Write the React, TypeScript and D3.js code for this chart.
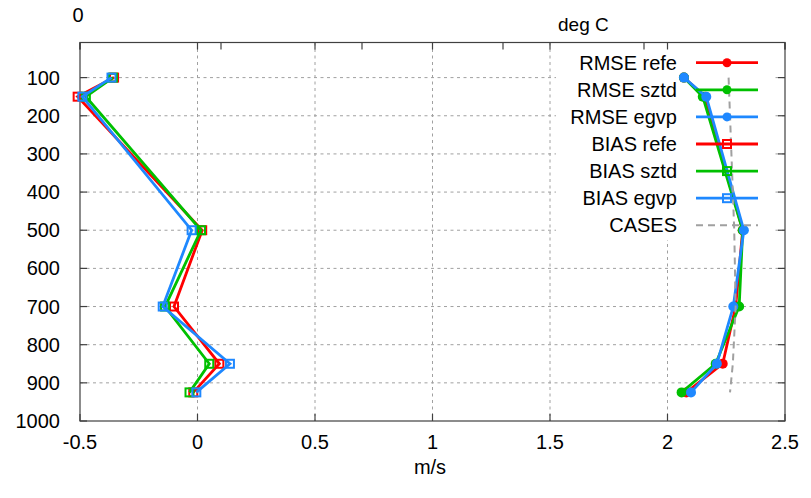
import React from "react";
import * as d3 from "d3";

// pressure levels (hPa)
const levels = [100, 150, 500, 700, 850, 925];

const rmseRefe = [2.07, 2.16, 2.32, 2.29, 2.235, 2.08];
const rmseSztd = [2.07, 2.15, 2.32, 2.305, 2.205, 2.06];
const rmseEgvp = [2.07, 2.165, 2.325, 2.28, 2.21, 2.1];

const biasRefe = [-0.355, -0.51, 0.02, -0.1, 0.093, -0.018];
const biasSztd = [-0.36, -0.475, 0.015, -0.138, 0.05, -0.034];
const biasEgvp = [-0.366, -0.49, -0.025, -0.148, 0.138, -0.005];

const cases = [4600, 4605, 4640, 4650, 4630, 4610];

const xTicks = [-0.5, 0, 0.5, 1, 1.5, 2, 2.5];
const yTicks = [100, 200, 300, 400, 500, 600, 700, 800, 900, 1000];
const x2Ticks = [0, 1000, 2000, 3000, 4000, 5000];

const RED = "#ff0000";
const GREEN = "#00c000";
const BLUE = "#1e88ff";
const GRAY = "#a0a0a0";

const series = [
  { name: "RMSE refe", values: rmseRefe, color: RED, kind: "rmse" },
  { name: "RMSE sztd", values: rmseSztd, color: GREEN, kind: "rmse" },
  { name: "RMSE egvp", values: rmseEgvp, color: BLUE, kind: "rmse" },
  { name: "BIAS refe", values: biasRefe, color: RED, kind: "bias" },
  { name: "BIAS sztd", values: biasSztd, color: GREEN, kind: "bias" },
  { name: "BIAS egvp", values: biasEgvp, color: BLUE, kind: "bias" },
];

export default function App() {
  const W = 811;
  const H = 498;
  const left = 80;
  const right = 785;
  const top = 42.5;
  const bottom = 421;

  const x = d3.scaleLinear().domain([-0.5, 2.5]).range([left, right]);
  const x2 = d3.scaleLinear().domain([0, 5000]).range([left, right]);
  const y = d3.scaleLinear().domain([8, 1000]).range([top, bottom]);

  const line = d3
    .line<[number, number]>()
    .x((d) => x(d[0]))
    .y((d) => y(d[1]));
  const line2 = d3
    .line<[number, number]>()
    .x((d) => x2(d[0]))
    .y((d) => y(d[1]));

  const font = "'Liberation Sans', Arial, sans-serif";
  const tickLen = 7;

  const marker = (kind: string, cx: number, cy: number, color: string, key: string, r = 5) =>
    kind === "rmse" ? (
      <circle key={key} cx={cx} cy={cy} r={r} fill={color} />
    ) : (
      <rect key={key} x={cx - 4} y={cy - 4} width={8} height={8} fill="none" stroke={color} strokeWidth={2} />
    );

  const legendRows = [...series.map((s) => s.name), "CASES"];
  const legendY = (i: number) => 62.7 + i * 27.1;

  return (
    <svg
      width={W}
      height={H}
      style={{ position: "absolute", left: 0, top: 0, background: "#fff" }}
      fontFamily={font}
    >
      <rect x={0} y={0} width={W} height={H} fill="#fff" />

      {/* grid */}
      <g stroke={GRAY} strokeWidth={1} strokeDasharray="3,3.5">
        {xTicks.slice(1, -1).map((t) => (
          <line key={"gx" + t} x1={x(t)} x2={x(t)} y1={top} y2={bottom} />
        ))}
        {yTicks.slice(0, -1).map((t) => (
          <line key={"gy" + t} x1={left} x2={right} y1={y(t)} y2={y(t)} />
        ))}
      </g>

      {/* opaque key box */}
      <rect x={556} y={44} width={216} height={196} fill="#fff" />

      {/* border and ticks */}
      <g stroke="#404040" strokeWidth={1.2}>
        <rect x={left} y={top} width={right - left} height={bottom - top} fill="none" />
        {xTicks.map((t) => (
          <g key={"xt" + t}>
            <line x1={x(t)} x2={x(t)} y1={bottom} y2={bottom - tickLen} />
            <line x1={x(t)} x2={x(t)} y1={top} y2={top + tickLen} />
          </g>
        ))}
        {x2Ticks.map((t) => (
          <line key={"x2t" + t} x1={x2(t)} x2={x2(t)} y1={top} y2={top + tickLen} />
        ))}
        {yTicks.map((t) => (
          <g key={"yt" + t}>
            <line x1={left} x2={left + tickLen} y1={y(t)} y2={y(t)} />
            <line x1={right} x2={right - tickLen} y1={y(t)} y2={y(t)} />
          </g>
        ))}
      </g>

      {/* tick labels */}
      <g fontSize={20} fill="#000">
        {yTicks.map((t) => (
          <text key={"yl" + t} x={60} y={y(t) + 7} textAnchor="end">
            {t}
          </text>
        ))}
        {xTicks.map((t) => (
          <text key={"xl" + t} x={x(t)} y={449} textAnchor="middle">
            {t}
          </text>
        ))}
        <text x={430} y={474} textAnchor="middle">m/s</text>
        <text x={78} y={22} textAnchor="middle">0</text>
        <text x={558} y={31} fontSize={19}>deg C</text>
      </g>

      {/* data */}
      {series.map((s) => {
        const pts = s.values.map((v, i) => [v, levels[i]] as [number, number]);
        return (
          <g key={s.name}>
            <path d={line(pts) ?? ""} fill="none" stroke={s.color} strokeWidth={2.8} />
            {pts.map((p, i) => marker(s.kind, x(p[0]), y(p[1]), s.color, s.name + i))}
          </g>
        );
      })}
      <path
        d={line2(cases.map((c, i) => [c, levels[i]] as [number, number])) ?? ""}
        fill="none"
        stroke={GRAY}
        strokeWidth={2}
        strokeDasharray="7,5"
      />

      {/* legend */}
      <g fontSize={20}>
        {legendRows.map((name, i) => {
          const ly = legendY(i);
          const s = series[i];
          return (
            <g key={"lg" + name}>
              <text x={677} y={ly + 7} textAnchor="end" fill="#000">
                {name}
              </text>
              {s ? (
                <>
                  <line x1={696} x2={758} y1={ly} y2={ly} stroke={s.color} strokeWidth={2.8} />
                  {marker(s.kind, 727, ly, s.color, "lm" + i, 4.5)}
                </>
              ) : (
                <line x1={696} x2={758} y1={ly} y2={ly} stroke={GRAY} strokeWidth={2} strokeDasharray="7,5" />
              )}
            </g>
          );
        })}
      </g>
    </svg>
  );
}
